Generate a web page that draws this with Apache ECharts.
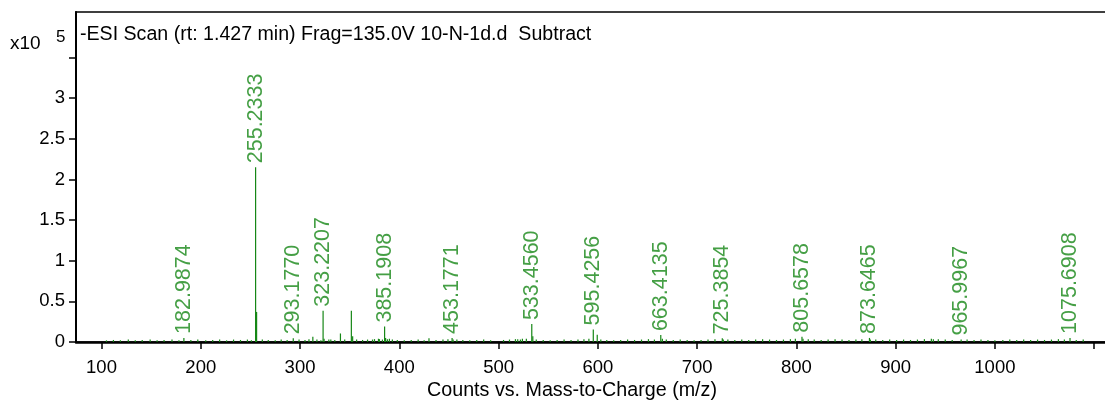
<!DOCTYPE html>
<html>
<head>
<meta charset="utf-8">
<script src="https://cdn.jsdelivr.net/npm/echarts@6/dist/echarts.min.js"></script>
<style>
  html, body { margin: 0; padding: 0; background: #fff; }
  #chart { width: 1105px; height: 410px; }
</style>
</head>
<body>
<div id="chart"></div>
<script>
// Intensities are in units of 10^5 counts.
const labeledMz = [182.9874, 255.2333, 293.1770, 323.2207, 385.1908, 453.1771, 533.4560,
                   595.4256, 663.4135, 725.3854, 805.6578, 873.6465, 965.9967, 1075.6908];
const labeledCounts = [0.05, 2.15, 0.045, 0.385, 0.19, 0.05, 0.22,
                       0.155, 0.085, 0.045, 0.065, 0.05, 0.03, 0.05];

const otherMz = [256.2367, 312.9, 324.2, 331.0, 340.7, 351.7, 353.0, 373.0, 380.0, 386.2,
                 390.0, 429.9, 454.2, 519.3, 524.0, 534.5, 599.4, 665.0, 726.4, 806.7, 874.6, 938.0];
const otherCounts = [0.37, 0.065, 0.04, 0.03, 0.105, 0.385, 0.07, 0.03, 0.035, 0.05,
                     0.04, 0.045, 0.03, 0.035, 0.04, 0.07, 0.09, 0.04, 0.03, 0.04, 0.03, 0.035];

const noiseMz = [105, 112, 119, 127, 134, 141, 149, 156, 163, 171, 178, 190, 197, 205, 212, 219,
                 226, 233, 240, 247, 251, 262, 268, 275, 281, 287, 299, 305, 309, 317, 321, 329,
                 335, 345, 357, 363, 368, 375, 379, 383, 388, 393, 398, 405, 412, 419, 425, 437,
                 444, 449, 458, 464, 471, 478, 485, 492, 505, 511, 517, 522, 528, 538, 545, 552,
                 559, 566, 573, 580, 586, 591, 603, 609, 616, 623, 630, 637, 644, 651, 657, 669,
                 676, 683, 690, 697, 704, 711, 718, 731, 738, 745, 752, 759, 766, 773, 780, 787,
                 794, 799, 812, 818, 825, 832, 839, 846, 853, 860, 866, 880, 887, 894, 901, 908,
                 915, 922, 929, 936, 943, 950, 957, 972, 979, 986, 993, 1000, 1008, 1015, 1022,
                 1029, 1036, 1043, 1050, 1057, 1064, 1070, 1082, 1089];
const noiseCounts = [0.02, 0.025, 0.02, 0.03, 0.02, 0.025, 0.03, 0.02, 0.025, 0.03, 0.02, 0.025, 0.03, 0.02, 0.025, 0.03,
                     0.02, 0.03, 0.025, 0.03, 0.02, 0.03, 0.025, 0.02, 0.03, 0.025, 0.03, 0.025, 0.035, 0.03, 0.02, 0.03,
                     0.025, 0.03, 0.03, 0.025, 0.03, 0.035, 0.04, 0.03, 0.035, 0.03, 0.025, 0.02, 0.025, 0.03, 0.02, 0.025,
                     0.03, 0.035, 0.03, 0.025, 0.02, 0.025, 0.03, 0.02, 0.025, 0.03, 0.035, 0.03, 0.04, 0.03, 0.025, 0.02,
                     0.025, 0.03, 0.025, 0.03, 0.035, 0.04, 0.03, 0.025, 0.02, 0.025, 0.03, 0.025, 0.03, 0.035, 0.03, 0.03,
                     0.025, 0.03, 0.025, 0.02, 0.025, 0.03, 0.035, 0.03, 0.025, 0.03, 0.025, 0.03, 0.035, 0.03, 0.025, 0.03,
                     0.035, 0.04, 0.035, 0.03, 0.025, 0.03, 0.035, 0.03, 0.025, 0.03, 0.035, 0.03, 0.025, 0.03, 0.025, 0.03,
                     0.025, 0.03, 0.035, 0.04, 0.035, 0.03, 0.025, 0.03, 0.025, 0.03, 0.025, 0.02, 0.025, 0.03, 0.025,
                     0.03, 0.025, 0.03, 0.025, 0.03, 0.035, 0.03, 0.025, 0.03];

const xTicks = [100, 200, 300, 400, 500, 600, 700, 800, 900, 1000, 1100];
const xTickLabels = [100, 200, 300, 400, 500, 600, 700, 800, 900, 1000];
const yTicks = [0, 0.5, 1, 1.5, 2, 2.5, 3, 3.5];
const yTickLabels = [0, 0.5, 1, 1.5, 2, 2.5, 3];

const titleText = '-ESI Scan (rt: 1.427 min) Frag=135.0V 10-N-1d.d  Subtract';
const xAxisTitle = 'Counts vs. Mass-to-Charge (m/z)';

const GREEN = '#168716';
const FONT = '"Liberation Sans", Arial, sans-serif';

const zip = (a, b) => a.map((v, i) => [v, b[i]]);
const sticks = zip(noiseMz, noiseCounts)
  .concat(zip(otherMz, otherCounts))
  .concat(zip(labeledMz, labeledCounts));

const chart = echarts.init(document.getElementById('chart'), null, { renderer: 'canvas' });

chart.setOption({
  backgroundColor: '#fff',
  animation: false,
  textStyle: { fontFamily: FONT },
  grid: {
    show: true, borderColor: '#000', borderWidth: 1.5,
    left: 76, top: 12, width: 1038, height: 330,
    containLabel: false, outerBoundsMode: 'none'
  },
  xAxis: {
    type: 'value', min: 74.3, max: 1120,
    axisLine: { show: true, onZero: false, lineStyle: { color: '#000', width: 2.5 } },
    axisTick: { show: true, customValues: xTicks, length: 7, lineStyle: { color: '#000', width: 1.5 } },
    axisLabel: {
      customValues: xTickLabels, color: '#000', fontSize: 18.5, margin: 16, fontFamily: FONT,
      formatter: function (v) { return String(v); }
    },
    splitLine: { show: false }
  },
  yAxis: {
    type: 'value', min: 0, max: 4.06,
    axisLine: { show: true, lineStyle: { color: '#000', width: 2 } },
    axisTick: { show: true, customValues: yTicks, length: 7, lineStyle: { color: '#000', width: 1.5 } },
    axisLabel: {
      customValues: yTickLabels, color: '#000', fontSize: 18.5, margin: 11, fontFamily: FONT,
      formatter: function (v) { return String(v); }
    },
    splitLine: { show: false }
  },
  graphic: [
    { type: 'text', x: 80, y: 35, style: { text: titleText, font: '19.6px ' + FONT, fill: '#000', verticalAlign: 'middle' } },
    { type: 'text', x: 10, y: 44, style: { text: 'x10', font: '19px ' + FONT, fill: '#000', verticalAlign: 'middle' } },
    { type: 'text', x: 56, y: 37, style: { text: '5', font: '17px ' + FONT, fill: '#000', verticalAlign: 'middle' } },
    { type: 'text', x: 572, y: 391, style: { text: xAxisTitle, font: '19.7px ' + FONT, fill: '#000', align: 'center', verticalAlign: 'middle' } }
  ],
  series: [
    {
      type: 'custom',
      data: sticks,
      renderItem: function (params, api) {
        const p0 = api.coord([api.value(0), 0]);
        const p1 = api.coord([api.value(0), api.value(1)]);
        return {
          type: 'line',
          shape: { x1: p0[0], y1: p0[1], x2: p1[0], y2: p1[1] },
          style: { stroke: GREEN, lineWidth: 1.2 }
        };
      },
      z: 1
    },
    {
      type: 'scatter',
      data: zip(labeledMz, labeledCounts),
      symbolSize: 0,
      z: 3,
      label: {
        show: true, position: 'top', rotate: 90, distance: 4,
        align: 'left', verticalAlign: 'middle',
        color: GREEN, fontSize: 21.5, fontFamily: FONT,
        formatter: function (p) { return p.value[0].toFixed(4); }
      }
    }
  ]
});
</script>
</body>
</html>
